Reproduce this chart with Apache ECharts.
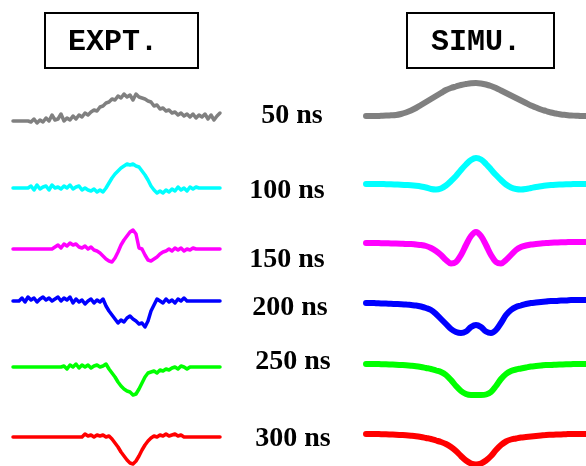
<!DOCTYPE html>
<html>
<head>
<meta charset="utf-8">
<script src="https://cdn.jsdelivr.net/npm/echarts@6.0.0/dist/echarts.min.js"></script>
<style>
  html, body { margin: 0; background: #fff; }
  #chart { width: 586px; height: 466px; }
</style>
</head>
<body>
<div id="chart"></div>
<script>
// delay labels and trace colours
const delays = ['50 ns', '100 ns', '150 ns', '200 ns', '250 ns', '300 ns']
const colors = ['#808080', '#00ffff', '#ff00ff', '#0000ff', '#00ff00', '#ff0000']

// experimental traces: signal (up = positive), 70 samples across the panel
const expt50 = [0, 0, 0, 0, 0, 0, -1, 2, -2, 1, -1, 3, 0, 6, 1, 2, 7, 0, 3, 1,
  5, 2, 6, 4, 8, 6, 9, 11, 10, 14, 15, 18, 19, 22, 21, 25, 23, 27, 24, 26,
  21, 27, 24, 23, 22, 20, 19, 15, 16, 12, 13, 10, 11, 8, 9, 6, 8, 5, 7, 4,
  7, 3, 6, 4, 7, 2, 6, 1, 5, 8]
const expt100 = [0, 0, 0, 0, 0, 0, 2, -2, 3, -1, 1, 2, -2, 3, 0, 1, -1, 2, 0, 3,
  -1, 1, 2, -2, 0, -2, -3, -1, -4, -2, -4, 0, 5, 10, 14, 17, 20, 22, 24, 23,
  24, 22, 21, 17, 13, 8, 2, -2, -5, -3, -5, -2, -4, -1, -3, 1, -2, 0, -3, 1,
  -1, 1, 0, 0, 0, 0, 0, 0, 0, 0]
const expt150 = [0, 0, 0, 0, 0, 0, 0, 0, 0, 0, 0, 0, 0, 0, 2, 4, 1, 5, 3, 6,
  4, 5, 2, 1, 3, 0, 2, -1, -2, -4, -7, -10, -12, -13, -9, -3, 4, 9, 13, 17,
  19, 15, 1, 0, -6, -11, -12, -10, -8, -5, -3, -2, 0, -2, 1, -1, 1, -2, 0, -1,
  1, 0, 0, 0, 0, 0, 0, 0, 0, 0]
const expt200 = [0, 0, 0, 3, -1, 4, 1, 3, -1, 2, 4, 1, 3, 0, 2, 4, 0, 3, 1, 4,
  -2, 2, -1, 1, -3, 0, 2, -2, 1, -1, 2, -5, -10, -14, -18, -22, -19, -21, -17, -15,
  -18, -20, -23, -22, -26, -20, -10, -4, 2, 0, -2, 2, -1, 1, -2, 2, 0, 3, 0, 0,
  0, 0, 0, 0, 0, 0, 0, 0, 0, 0]
const expt250 = [0, 0, 0, 0, 0, 0, 0, 0, 0, 0, 0, 0, 0, 0, 0, 0, 0, 1, -2, 2,
  0, 3, -1, 2, 0, 2, -1, 1, 2, 0, 1, 3, -2, -6, -10, -15, -19, -22, -24, -25,
  -28, -27, -22, -16, -10, -6, -5, -4, -6, -3, -4, -2, -3, -1, 0, -2, 1, 0, -2, 0,
  0, 0, 0, 0, 0, 0, 0, 0, 0, 0]
const expt300 = [0, 0, 0, 0, 0, 0, 0, 0, 0, 0, 0, 0, 0, 0, 0, 0, 0, 0, 0, 0,
  0, 0, 0, 0, 3, 1, 2, 0, 2, 1, 2, 0, 1, -2, -6, -10, -15, -19, -23, -26,
  -27, -24, -19, -13, -8, -4, -1, 1, 0, 2, 1, 3, 1, 2, 3, 1, 2, 0, 0, 0,
  0, 0, 0, 0, 0, 0, 0, 0, 0, 0]

// simulated traces: 45 samples across the panel
const simu50 = [0, 0, 0, 0.2, 0.4, 0.7, 1, 2, 3.5, 5.5, 8, 11, 14, 17, 20, 23, 26, 28, 29.5, 31,
  32, 32.8, 33, 32.5, 31.5, 30, 28, 25.5, 23, 20.5, 18, 15.5, 13, 10.5, 8.5, 6.5, 5, 3.5, 2.5, 1.5,
  1, 0.5, 0.3, 0, 0]
const simu100 = [0, 0, 0, 0, -0.2, -0.3, -0.5, -0.7, -1, -1.3, -1.8, -2.5, -3.5, -5, -5.5, -4.5, -1.5, 3, 8, 14,
  19.5, 24, 26, 24.5, 20, 14.5, 9, 4, -0.5, -3.5, -5, -5.5, -5, -4, -3, -2.2, -1.5, -1, -0.7, -0.5,
  -0.3, -0.2, 0, 0, 0]
const simu150 = [0, 0, 0, -0.2, -0.3, -0.4, -0.5, -0.7, -1, -1, -1.5, -2, -3, -5, -8, -12, -17, -20.5, -19, -12,
  -2, 7, 11, 7, -2, -12, -19, -20.5, -17, -12, -7, -4, -2.5, -1.5, -1, -0.5, 0, 0.3, 0.5, 0.7,
  0.8, 1, 1, 1, 1]
const simu200 = [0, 0, -0.2, -0.4, -0.6, -0.8, -1, -1.2, -1.5, -2, -2.5, -3.5, -5, -7, -11, -16, -21, -26, -29, -30,
  -28.5, -24, -22, -24, -28.5, -30, -27, -20, -12, -7, -4, -2.5, -1, 0, 0.5, 1, 1.5, 2, 2, 2.5,
  2.5, 3, 3, 3, 3]
const simu250 = [0, 0, 0, -0.2, -0.3, -0.5, -0.7, -1, -1.3, -1.7, -2.2, -3, -4, -5, -6.5, -8, -11, -16, -22, -27,
  -30, -31, -31, -31, -30.5, -28, -22, -15, -10, -7, -5.5, -4.5, -3.5, -2.5, -2, -1.5, -1, -1, -0.7, -0.5,
  -0.3, -0.2, 0, 0, 0]
const simu300 = [0, 0, 0, -0.2, -0.3, -0.5, -0.7, -1, -1.3, -1.7, -2.2, -3, -4, -5, -6.5, -8, -10, -13, -17, -22,
  -26.5, -29.5, -30.5, -29.5, -26.5, -22, -16, -11, -7.5, -5.5, -4.5, -3.5, -3, -2.5, -2, -1.5, -1, -0.8, -0.6, -0.4,
  -0.2, 0, 0, 0, 0]

const exptData = [expt50, expt100, expt150, expt200, expt250, expt300]
const simuData = [simu50, simu100, simu150, simu200, simu250, simu300]

// layout: baseline y of each row (px), panel spans
const exptBase = [121, 188, 249, 301, 367, 437]
const simuBase = [116, 184, 243, 303, 364, 434]
const labelPos = [[292, 116], [287, 191], [287, 260], [290, 308], [293, 362], [293, 439]]
const SPAN = 40 // half range of each row's y axis, 1 unit = 1 px

const grids = []
const xAxes = []
const yAxes = []
const series = []

const addTrace = (data, base, left, width, color, smooth, lw) => {
  const idx = grids.length
  grids.push({ left, width, top: base - SPAN, height: SPAN * 2, outerBoundsMode: 'none', containLabel: false })
  xAxes.push({
    gridIndex: idx, type: 'category', boundaryGap: false,
    data: data.map((_, i) => i), show: false
  })
  yAxes.push({ gridIndex: idx, type: 'value', min: -SPAN, max: SPAN, show: false })
  series.push({
    type: 'line', xAxisIndex: idx, yAxisIndex: idx, data,
    showSymbol: false, smooth, clip: false,
    lineStyle: { color, width: lw, join: 'round', cap: 'round' }
  })
}

exptData.forEach((d, i) => addTrace(d, exptBase[i], 13, 207, colors[i], false, 3.5))
simuData.forEach((d, i) => addTrace(d, simuBase[i], 366, 220, colors[i], 0.35, 6))

const textEl = (text, x, y, font) => ({
  type: 'text', x, y, z: 10,
  style: { text, font, fill: '#000', textAlign: 'center', textVerticalAlign: 'middle', align: 'center', verticalAlign: 'middle' }
})

const graphic = [
  { type: 'rect', shape: { x: 45, y: 13, width: 153, height: 55 }, style: { fill: '#fff', stroke: '#000', lineWidth: 2 } },
  { type: 'rect', shape: { x: 407, y: 13, width: 147, height: 55 }, style: { fill: '#fff', stroke: '#000', lineWidth: 2 } },
  textEl('EXPT.', 113, 42, 'bold 30px "Liberation Mono"'),
  textEl('SIMU.', 476, 42, 'bold 30px "Liberation Mono"'),
  ...delays.map((t, i) => textEl(t, labelPos[i][0], labelPos[i][1], 'bold 28px "Liberation Serif"')),
  // the 150 ns label is cut off at its bottom in the original
  { type: 'rect', z: 11, shape: { x: 240, y: 268, width: 95, height: 12 }, style: { fill: '#fff' } }
]

const chart = echarts.init(document.getElementById('chart'))
chart.setOption({
  animation: false,
  backgroundColor: '#fff',
  grid: grids,
  xAxis: xAxes,
  yAxis: yAxes,
  series,
  graphic
})
window.addEventListener('resize', () => chart.resize())
</script>
</body>
</html>
